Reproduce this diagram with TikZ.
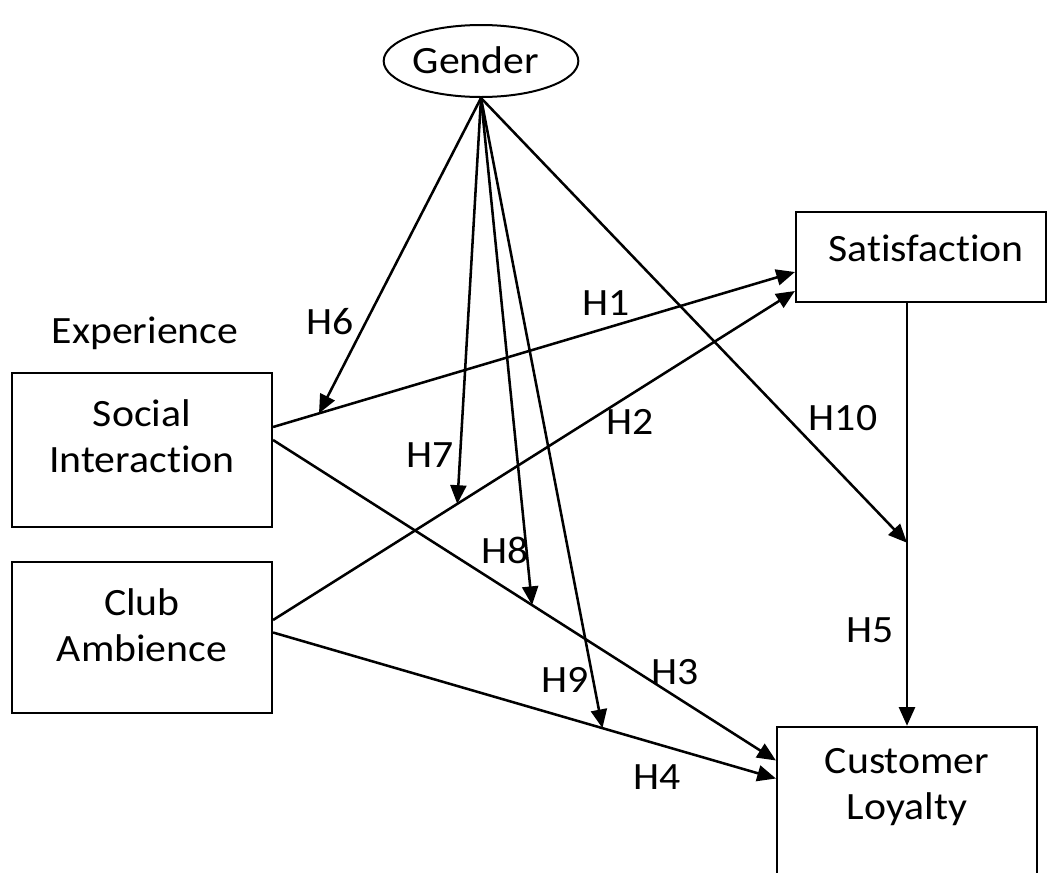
\documentclass[tikz,border=0pt]{standalone}
\usepackage{fontspec}
\setmainfont{Carlito}[Ligatures=NoCommon,FakeStretch=1.08]
\usetikzlibrary{shapes.geometric,arrows.meta,calc}
\begin{document}
\begin{tikzpicture}[x=0.75pt,y=-0.75pt,
  every node/.style={font=\fontsize{29}{34.5}\selectfont},
  box/.style={draw,line width=1.6pt,rectangle,inner sep=0pt},
  lbl/.style={align=center,inner sep=0pt},
  conn/.style={line width=1.9pt,-{Triangle[length=14pt,width=12pt]}}]
\clip (0,0) rectangle (1049,872);
\fill[white] (0,0) rectangle (1049,872);
% boxes
\node[box,minimum width=195pt,minimum height=115.5pt] (si) at (142,450) {};
\node[box,minimum width=195pt,minimum height=113.25pt] (ca) at (142,637.5) {};
\node[box,minimum width=187.5pt,minimum height=67.5pt] (sat) at (921,257) {};
\node[box,minimum width=195pt,minimum height=115pt] (cl) at (907,803.5) {};
\node[draw,line width=1.5pt,ellipse,minimum width=146pt,minimum height=54pt,inner sep=0pt] (g) at (481,61) {};
% texts
\node[lbl] (gt) at (476,60) {Gender};
\node[lbl] (sit) at (142,436) {Social\\Interaction};
\node[lbl] (cat) at (142,625) {Club\\Ambience};
\node[lbl] (satt) at (926,248) {Satisfaction};
\node[lbl] (clt) at (907,787) {Customer\\Loyalty};
\node[lbl] (exp) at (145,333) {Experience};
% main paths
\coordinate (h1s) at ($(si.east)+(0,-23)$);
\coordinate (h1e) at ($(sat.west)+(0,15)$);
\coordinate (h2s) at ($(ca.east)+(0,-17.5)$);
\coordinate (h2e) at ($(sat.west)+(0,34)$);
\coordinate (h3s) at ($(si.east)+(0,-10)$);
\coordinate (h3e) at ($(cl.west)+(0,-43)$);
\coordinate (h4s) at ($(ca.east)+(0,-5)$);
\coordinate (h4e) at ($(cl.west)+(0,-25)$);
\coordinate (h5s) at (sat.south -| cl.north);
\draw[conn] (h1s) -- (h1e);
\draw[conn] (h2s) -- (h2e);
\draw[conn] (h3s) -- (h3e);
\draw[conn] (h4s) -- (h4e);
\draw[conn] (h5s) -- (cl.north);
% moderation targets
\coordinate (t6) at ($(h1s)!0.088!(h1e)$);
\coordinate (t7) at ($(h2s)!0.353!(h2e)$);
\coordinate (t8) at ($(h3s)!0.515!(h3e)$);
\coordinate (t9) at ($(h4s)!0.655!(h4e)$);
\coordinate (t10) at ($(h5s)!0.567!(cl.north)$);
\draw[conn] (g.south) -- (t6);
\draw[conn] (g.south) -- (t7);
\draw[conn] (g.south) -- (t8);
\draw[conn] (g.south) -- (t9);
\draw[conn] (g.south) -- (t10);
% labels
\node[lbl] (l1) at (606,303) {H1};
\node[lbl] (l2) at (630,422) {H2};
\node[lbl] (l3) at (675,672) {H3};
\node[lbl] (l4) at (657,777) {H4};
\node[lbl] (l5) at (870,630) {H5};
\node[lbl] (l6) at (330,322) {H6};
\node[lbl] (l7) at (430,455) {H7};
\node[lbl] (l8) at (505,550) {H8};
\node[lbl] (l9) at (565,680) {H9};
\node[lbl] (l10) at (843,418) {H10};
\end{tikzpicture}
\end{document}
